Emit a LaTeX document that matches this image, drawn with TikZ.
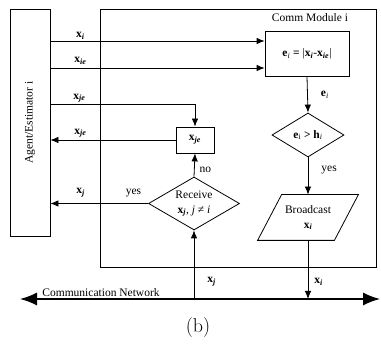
\documentclass[tikz,border=0pt]{standalone}
\usepackage{fontspec}
\newfontfamily\tms{Liberation Serif}
\usetikzlibrary{shapes.geometric,arrows.meta}
\newcommand{\bx}[1]{\textbf{x}\textsubscript{\bfseries\itshape #1}}
\def\slant{12pt}

\begin{document}
\begin{tikzpicture}[x=1pt,y=-1pt,line width=0.8pt,>={Latex[length=8pt,width=6.5pt]}]
    \tikzstyle{every node}=[font=\tms\fontsize{11.5}{14}\selectfont]
    \tikzstyle{block}=[rectangle,draw,inner sep=0pt]
    \tikzstyle{decision}=[diamond,draw,inner sep=0pt]
    \tikzstyle{io}=[rectangle,inner sep=0pt,align=center]
    \tikzstyle{annot}=[inner sep=1pt]
    \tikzstyle{netarrow}=[{Latex[length=17pt,width=13pt]}-{Latex[length=17pt,width=13pt]},line width=1.4pt]

    \useasboundingbox (0,0) rectangle (381,344);

    %%% DRAW THE NODES
    \node[block,minimum width=40pt,minimum height=227pt] (agent) at (30,122.5) {};
    \node[rotate=90] (agentlabel) at (agent.center) {Agent/Estimator i};
    \node[block,minimum width=276pt,minimum height=258pt] (comm) at (238,138) {};
    \node (commlabel) at (310,18) {Comm Module i};
    \node[block,minimum width=84pt,minimum height=45pt] (ebox) at (307,53.5)
        {\textbf{e}\textsubscript{\itshape i} \textbf{=} |\bx{i}-\bx{ie}|};
    \node[decision,minimum width=72pt,minimum height=44pt,
          label={center:\textbf{e}\textsubscript{i} \textbf{>} \textbf{h}\textsubscript{\itshape i}}] (hdec) at (308,135) {};
    \node[io,minimum width=76pt,minimum height=45pt] (bcast) at (308,217.5) {Broadcast\\[1pt]\bx{i}};
    \draw ([xshift=\slant]bcast.north west) -- ([xshift=\slant]bcast.north east)
        -- ([xshift=-\slant]bcast.south east) -- ([xshift=-\slant]bcast.south west) -- cycle;
    \node[block,minimum width=38pt,minimum height=26pt] (jbox) at (195,140) {\bx{je}};
    \node[decision,minimum width=91pt,minimum height=53pt,
          label={[align=center,font=\tms\fontsize{11.5}{15}\selectfont]center:Receive\\\bx{j}, \textit{j} ≠ \textit{i}}] (recv) at (194,203.5) {};
    \coordinate (netL) at (20,299);
    \coordinate (netR) at (380,299);
    \coordinate (xi-in) at ([yshift=12.5pt]ebox.west);
    \coordinate (xie-in) at ([yshift=-14.5pt]ebox.west);
    \coordinate (xje-out) at ([yshift=18.5pt]agent.east);

    %%% DRAW THE PATHS
    \draw[->] (xi-in -| agent.east) -- node[annot,above,pos=0.14] {\bx{i}} (xi-in);
    \draw[->] (xie-in -| agent.east) -- node[annot,above=2pt,pos=0.14] {\bx{ie}} (xie-in);
    \draw[->] (xje-out) -| node[annot,above,pos=0.1] {\bx{je}} (jbox.north);
    \draw[->] (jbox.west) -- node[annot,above=1pt,pos=0.76] {\bx{je}} (jbox.west -| agent.east);
    \draw[->] (recv.west) -- node[annot,above=5pt,pos=0.15] {yes} node[annot,above=5pt,pos=0.69] {\bx{j}} (recv.west -| agent.east);
    \draw[->] (recv.north) -- node[annot,right=4pt,pos=0.3] {no} (jbox.south);
    \draw[->] (ebox.south) -- node[annot,right=12pt] {\textbf{e}\textsubscript{\itshape i}} (hdec.north);
    \draw[->] (hdec.south) -- node[annot,right=12pt,pos=0.35] {yes} (bcast.north);
    \draw[->] (recv.south |- netL) -- node[annot,right=12pt,pos=0.25] {\bx{j}} (recv.south);
    \draw[->] (bcast.south) -- node[annot,right=5pt,pos=0.71] {\bx{i}} (bcast.south |- netL);
    \draw[netarrow] (netL) -- node[annot,above=1pt,pos=0.225] {Communication Network} (netR);

    %%% CAPTION
    \node[font=\rmfamily\fontsize{20}{24}\selectfont] (caption) at (198,328) {(b)};

\end{tikzpicture}
\end{document}
